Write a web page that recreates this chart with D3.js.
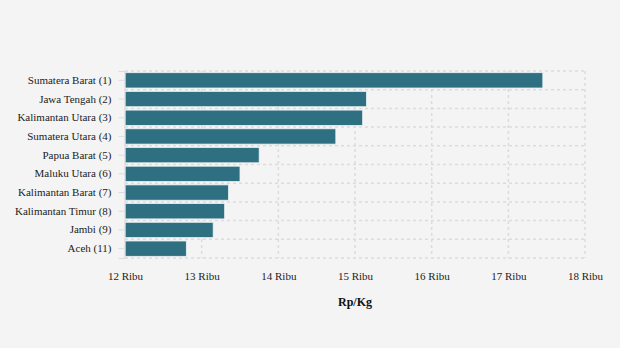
<!DOCTYPE html>
<html><head><meta charset="utf-8">
<script src="https://cdn.jsdelivr.net/npm/d3@7"></script>
<style>
body{margin:0;background:#f4f4f4;}
svg{display:block;}
</style></head>
<body><svg id="c" width="620" height="348"></svg>
<script>
const categories = ["Sumatera Barat (1)","Jawa Tengah (2)","Kalimantan Utara (3)","Sumatera Utara (4)","Papua Barat (5)","Maluku Utara (6)","Kalimantan Barat (7)","Kalimantan Timur (8)","Jambi (9)","Aceh (11)"];
const values = [17450, 15150, 15100, 14750, 13750, 13500, 13350, 13300, 13150, 12800];
const tickValues = [12000,13000,14000,15000,16000,17000,18000];
const tickLabels = ["12 Ribu","13 Ribu","14 Ribu","15 Ribu","16 Ribu","17 Ribu","18 Ribu"];
const axisTitle = "Rp/Kg";

const FONT = "Liberation Serif, Times New Roman, serif";
const svg = d3.select("#c").attr("font-family",FONT);
svg.append("rect").attr("width",620).attr("height",348).attr("fill","#f4f4f4");
const m = {l:125, r:585, t:71, b:258};
const x = d3.scaleLinear().domain([12000,18000]).range([m.l,m.r]);
const y = d3.scaleBand().domain(categories).range([m.t,m.b]).paddingInner(0.18).paddingOuter(0.09);

const g = svg.append("g");
g.selectAll("line.vg").data(tickValues).join("line")
  .attr("x1",d=>x(d)).attr("x2",d=>x(d)).attr("y1",m.t).attr("y2",m.b)
  .attr("stroke","#dcdcdc").attr("stroke-width",1.5).attr("stroke-dasharray","3,3");
const edges = d3.range(categories.length+1).map(i=>m.t + i*(m.b-m.t)/categories.length);
g.selectAll("line.hg").data(edges).join("line")
  .attr("x1",m.l).attr("x2",m.r).attr("y1",d=>d).attr("y2",d=>d)
  .attr("stroke","#dcdcdc").attr("stroke-width",1.5).attr("stroke-dasharray","3,3");

g.selectAll("rect.bar").data(categories).join("rect")
  .attr("x",x(12000)).attr("y",d=>y(d))
  .attr("width",(d,i)=>x(values[i])-x(12000)).attr("height",y.bandwidth())
  .attr("fill","#2f6f82").attr("stroke","#eaf2f4").attr("stroke-width",0.8);

const ya = d3.axisLeft(y).tickSize(6).tickPadding(7);
const yg = svg.append("g").attr("transform",`translate(${m.l-0.5},0)`).call(ya)
  .attr("font-family",FONT).attr("font-size",11);
yg.select(".domain").attr("stroke","#dcdcdc");
yg.selectAll(".tick line").attr("stroke","#dcdcdc");
yg.selectAll(".tick text").attr("fill","#222");

const xa = d3.axisBottom(x).tickValues(tickValues).tickFormat((d,i)=>tickLabels[i]).tickSize(0).tickPadding(14);
const xg = svg.append("g").attr("transform",`translate(0,${m.b})`).call(xa)
  .attr("font-family",FONT).attr("font-size",11);
xg.select(".domain").remove();
xg.selectAll(".tick text").attr("fill","#222");

svg.append("text").attr("x",(m.l+m.r)/2).attr("y",306).attr("text-anchor","middle")
  .attr("font-size",12).attr("font-weight","bold").attr("fill","#111").text(axisTitle);
</script></body></html>
